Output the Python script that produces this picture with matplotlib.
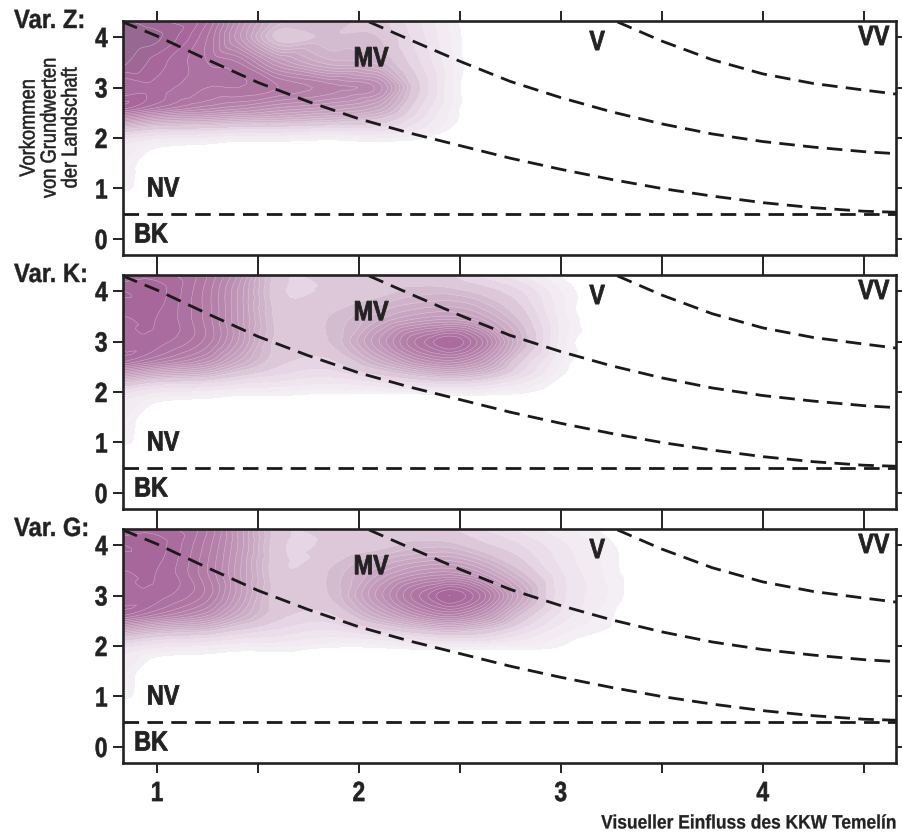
import numpy as np
import matplotlib
matplotlib.use("Agg")
import matplotlib.pyplot as plt
import matplotlib.tri as mtri
import matplotlib.patheffects as pe
from matplotlib.transforms import Affine2D
from matplotlib.colors import LinearSegmentedColormap

plt.rcParams['font.family'] = ['Liberation Sans', 'DejaVu Sans']

panel_names = ["Var. Z:", "Var. K:", "Var. G:"]
zone_labels = ["BK", "NV", "MV", "V", "VV"]
x_ticks = [1, 1.5, 2, 2.5, 3, 3.5, 4, 4.5]
x_tick_labels = ["1", "", "2", "", "3", "", "4", ""]
y_ticks = [0, 1, 2, 3, 4]
xlabel_text = "Visueller Einfluss des KKW Temelín"
ylabel_text = "Vorkommen\nvon Grundwerten\nder Landschaft"

grid_x = [0.83, 1.0, 1.25, 1.4, 1.6, 1.85, 2.1, 2.3, 2.45, 2.6, 2.8, 3.0, 3.2, 3.4]
grid_y = [0.6, 1.2, 1.7, 1.95, 2.15, 2.35, 2.6, 3.0, 3.5, 4.0, 4.32]

density_z = [
    [0, 0, 0, 0, 0, 0, 0, 0, 0, 0, 0, 0, 0, 0],
    [.04, 0, 0, 0, 0, 0, 0, 0, 0, 0, 0, 0, 0, 0],
    [.07, .01, 0, 0, 0, 0, 0, 0, 0, 0, 0, 0, 0, 0],
    [.12, .07, .05, .03, .03, .02, .03, .02, 0, 0, 0, 0, 0, 0],
    [.30, .22, .20, .17, .17, .14, .14, .08, .02, 0, 0, 0, 0, 0],
    [.60, .50, .46, .42, .40, .36, .30, .14, .04, 0, 0, 0, 0, 0],
    [.90, .80, .70, .66, .60, .55, .46, .20, .05, 0, 0, 0, 0, 0],
    [.84, .86, .80, .80, .76, .70, .62, .26, .06, 0, 0, 0, 0, 0],
    [.97, .90, .80, .76, .56, .42, .38, .20, .06, 0, 0, 0, 0, 0],
    [1.0, .97, .80, .58, .30, .33, .32, .16, .05, 0, 0, 0, 0, 0],
    [.97, .93, .84, .62, .38, .34, .28, .14, .04, 0, 0, 0, 0, 0],
]
density_k = [
    [0, 0, 0, 0, 0, 0, 0, 0, 0, 0, 0, 0, 0, 0],
    [.04, 0, 0, 0, 0, 0, 0, 0, 0, 0, 0, 0, 0, 0],
    [.08, .01, 0, 0, 0, 0, 0, 0, 0, 0, 0, 0, 0, 0],
    [.13, .07, .05, .03, .03, .02, .02, .02, .03, .03, .02, 0, 0, 0],
    [.30, .20, .17, .13, .11, .08, .11, .16, .18, .16, .08, .01, 0, 0],
    [.55, .45, .38, .28, .20, .16, .26, .36, .42, .36, .18, .03, 0, 0],
    [.84, .74, .60, .44, .28, .24, .42, .60, .66, .56, .26, .05, 0, 0],
    [.86, .86, .74, .56, .30, .32, .56, .78, .88, .74, .38, .07, 0, 0],
    [.88, .88, .74, .56, .30, .32, .42, .50, .52, .46, .30, .07, 0, 0],
    [.92, .90, .74, .56, .28, .27, .30, .34, .34, .30, .20, .05, 0, 0],
    [.84, .86, .76, .60, .29, .28, .30, .28, .26, .18, .09, .02, 0, 0],
]
density_g = [
    [0, 0, 0, 0, 0, 0, 0, 0, 0, 0, 0, 0, 0, 0],
    [.04, 0, 0, 0, 0, 0, 0, 0, 0, 0, 0, 0, 0, 0],
    [.08, .01, 0, 0, 0, 0, 0, 0, 0, 0, 0, 0, 0, 0],
    [.13, .08, .06, .04, .04, .02, .02, .03, .03, .03, .03, .02, 0, 0],
    [.30, .22, .18, .14, .12, .08, .10, .15, .18, .18, .10, .04, .01, 0],
    [.55, .45, .38, .28, .20, .15, .26, .36, .42, .36, .20, .07, .03, 0],
    [.84, .74, .60, .44, .28, .24, .44, .62, .70, .60, .32, .12, .04, 0],
    [.86, .86, .74, .54, .29, .32, .58, .80, .92, .80, .46, .16, .06, 0],
    [.88, .88, .72, .54, .28, .32, .46, .56, .58, .50, .32, .14, .05, 0],
    [.92, .90, .74, .56, .28, .27, .30, .34, .34, .28, .20, .10, .04, 0],
    [.84, .86, .76, .56, .29, .28, .30, .28, .26, .20, .12, .06, .02, 0],
]
densities = [density_z, density_k, density_g]

curve_low_x = [0.83, 1.0, 1.25, 1.5, 1.75, 2.0, 2.25, 2.5, 2.75, 3.0, 3.25, 3.5, 3.75, 4.0, 4.25, 4.5, 4.66]
curve_low_y = [4.30, 4.02, 3.55, 3.10, 2.72, 2.38, 2.10, 1.85, 1.60, 1.38, 1.18, 1.00, 0.85, 0.72, 0.62, 0.55, 0.53]
curve_mid_x = [2.05, 2.25, 2.5, 2.75, 3.0, 3.25, 3.5, 3.75, 4.0, 4.25, 4.5, 4.66]
curve_mid_y = [4.30, 3.95, 3.52, 3.12, 2.80, 2.52, 2.28, 2.08, 1.93, 1.82, 1.73, 1.69]
curve_high_x = [3.28, 3.5, 3.75, 4.0, 4.25, 4.5, 4.66]
curve_high_y = [4.30, 3.92, 3.55, 3.27, 3.08, 2.95, 2.87]
baseline_y = 0.5

level_values = np.concatenate([[0.025, 0.05, 0.09, 0.14, 0.20, 0.26, 0.32], np.arange(0.36, 1.04, 0.04)])
cmap = LinearSegmentedColormap.from_list(
    "purple", [(0, "#f5f0f5"), (0.2, "#e7d8e6"), (0.35, "#d0b5cb"), (0.7, "#b480a9"),
               (0.9, "#a7679b"), (1, "#93688f")])

W, H = 902, 837
fig = plt.figure(figsize=(W / 100, H / 100), dpi=100)
tops = [22, 276, 530]
ax_left, ax_right, ax_h = 123, 896, 234
INK = "#222222"


class Narrow(pe.AbstractPathEffect):
    """Draw real text with its glyphs condensed along the text direction."""

    def __init__(self, sx, anchor="center", stroke=0.0):
        super().__init__()
        self.sx, self.anchor, self.stroke = sx, anchor, stroke

    def draw_path(self, renderer, gc, tpath, affine, rgbFace=None):
        ext = tpath.get_extents()
        pivot = {"left": ext.x0, "center": (ext.x0 + ext.x1) / 2, "right": ext.x1}[self.anchor]
        tr = Affine2D().translate(-pivot, 0).scale(self.sx, 1).translate(pivot, 0) + affine
        gc0 = renderer.new_gc()
        gc0.copy_properties(gc)
        if self.stroke > 0:
            gc0.set_linewidth(self.stroke)
            gc0.set_foreground(INK)
        else:
            gc0.set_linewidth(0)
        renderer.draw_path(gc0, tpath, tr, rgbFace)
        gc0.restore()


gx, gy = np.meshgrid(grid_x, grid_y)
tri = mtri.Triangulation(gx.ravel(), gy.ravel())
refiner = mtri.UniformTriRefiner(tri)

zone_pos = [(0.97, 0.07), (1.03, 0.98), (2.06, 3.56), (3.18, 3.88), (4.55, 3.98)]

for i, (top, name, dens) in enumerate(zip(tops, panel_names, densities)):
    ax = fig.add_axes([ax_left / W, 1 - (top + ax_h) / H, (ax_right - ax_left) / W, ax_h / H])
    z = np.array(dens, dtype=float).ravel()
    interp = mtri.CubicTriInterpolator(tri, z, kind="geom")
    tf, zf = refiner.refine_field(z, triinterpolator=interp, subdiv=3)
    ax.tricontourf(tf, zf, levels=level_values, cmap=cmap, extend="max", zorder=1)
    ax.tricontour(tf, zf, levels=level_values[6:], colors="white", linewidths=0.35, alpha=0.5, zorder=2)

    dash = dict(color="#1a1a1a", lw=2.0, zorder=3, dashes=(5.6, 3.0))
    ax.plot(curve_low_x, curve_low_y, **dash)
    ax.plot(curve_mid_x, curve_mid_y, **dash)
    ax.plot(curve_high_x, curve_high_y, **dash)
    ax.axhline(baseline_y, **dash)

    ax.set_xlim(0.832, 4.66)
    ax.set_ylim(-0.317, 4.317)
    ax.set_xticks(x_ticks)
    ax.set_yticks(y_ticks)
    ax.set_xticklabels(x_tick_labels if i == 2 else [""] * len(x_ticks))
    ax.tick_params(axis="both", direction="out", length=7, width=1.4, color=INK,
                   labelsize=20, labelcolor=INK, pad=4)
    ax.tick_params(axis="x", pad=6)
    ax.tick_params(top=True, right=True, bottom=True, left=True)
    for lab in ax.get_xticklabels():
        lab.set_fontweight("bold")
        lab.set_path_effects([Narrow(0.82, "center", 0.4)])
    for lab in ax.get_yticklabels():
        lab.set_fontweight("bold")
        lab.set_path_effects([Narrow(0.82, "right", 0.4)])
    for s in ax.spines.values():
        s.set_linewidth(1.9)
        s.set_color(INK)
        s.set_zorder(5)

    for lab, (px, py) in zip(zone_labels, zone_pos):
        ax.text(px, py, lab, fontsize=20, fontweight="bold", color=INK, ha="center", va="center",
                zorder=4, path_effects=[Narrow(0.84, "center", 0.6)])

    fig.text(14 / W, 1 - top / H, name, fontsize=19, fontweight="bold", color=INK,
             ha="left", va="center", path_effects=[Narrow(0.9, "left", 0.3)])

fig.text(50 / W, 1 - 129 / H, ylabel_text, rotation=90, fontsize=15.5, color=INK,
         ha="center", va="center", linespacing=1.0, multialignment="center",
         path_effects=[Narrow(0.85, "center", 0.4)])
fig.text(897 / W, 1 - 825 / H, xlabel_text, fontsize=14, fontweight="bold", color=INK,
         ha="right", va="center", path_effects=[Narrow(0.895, "right", 0.2)])

fig.savefig("out.png", dpi=100)
